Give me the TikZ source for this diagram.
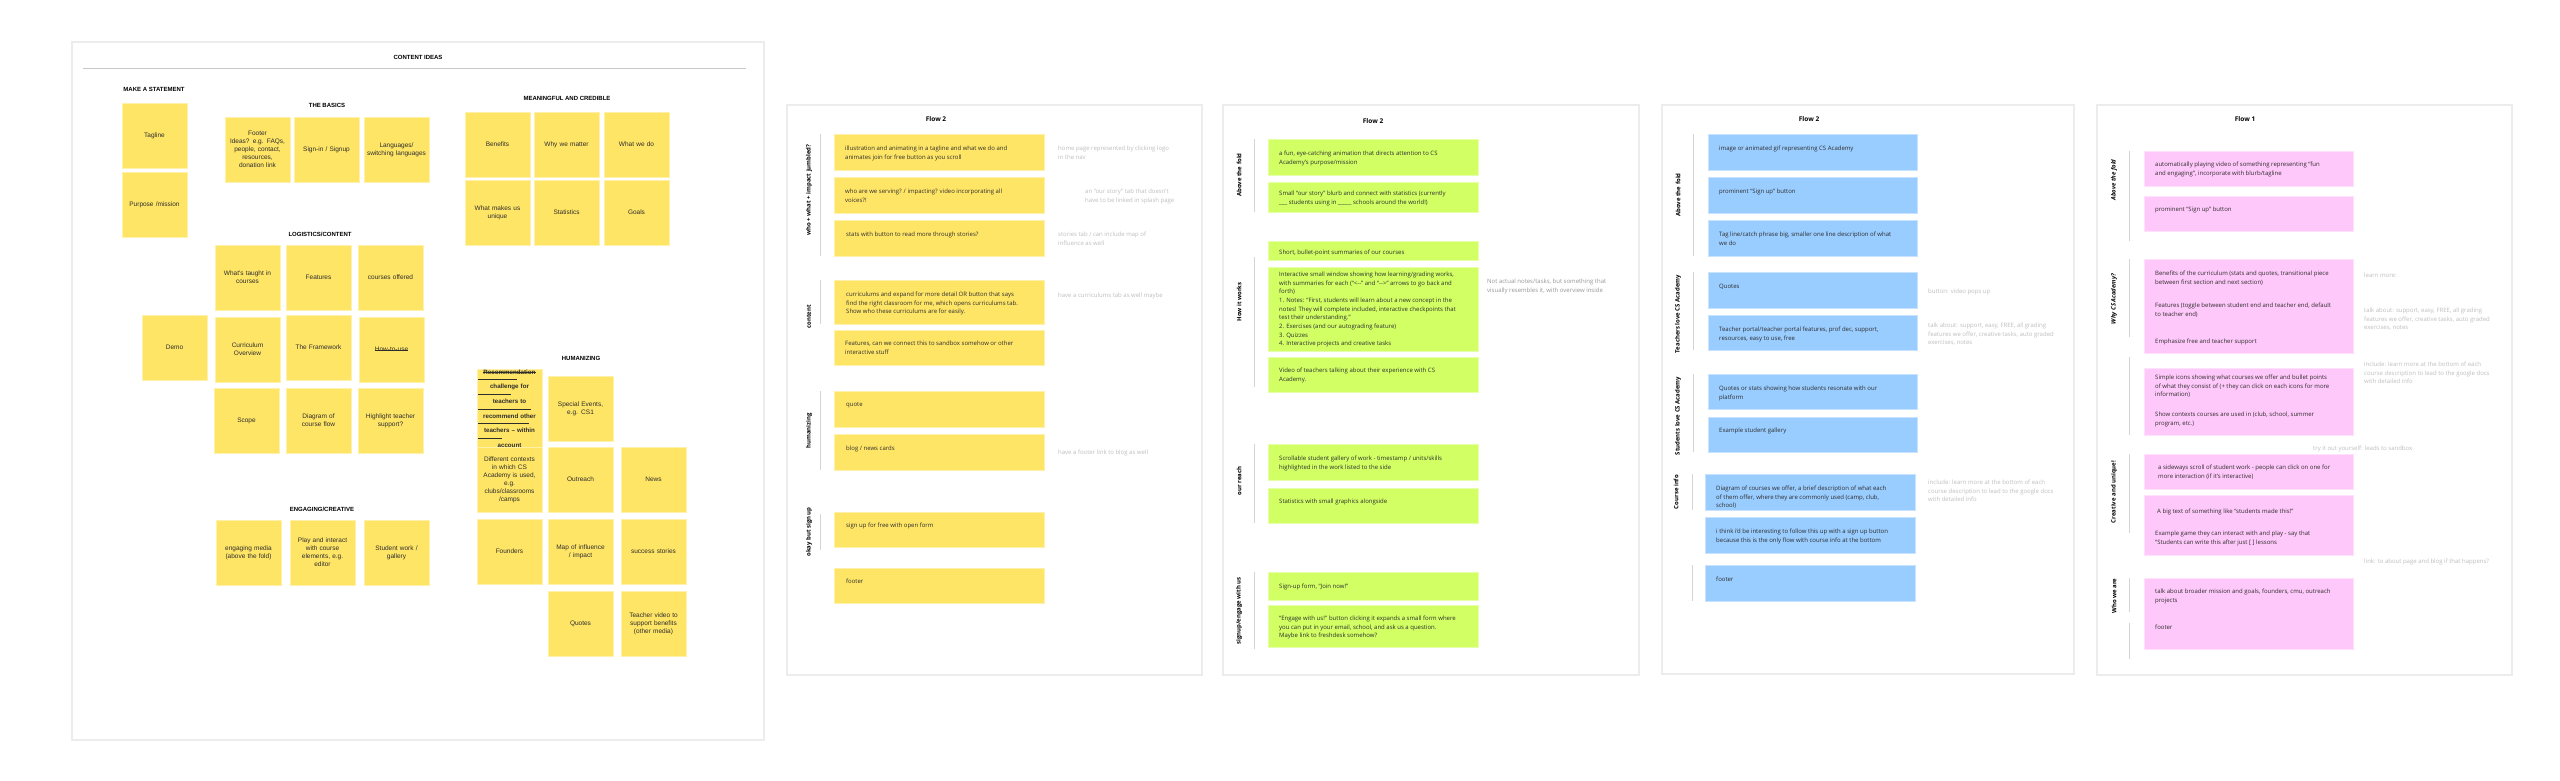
\documentclass[tikz,border=0pt]{standalone}
\usepackage{fontspec}
\setmainfont{Open Sans}
\newfontfamily\stickyfont{Liberation Sans}
\usetikzlibrary{positioning}

\definecolor{boardgrey}{RGB}{236,236,236}
\definecolor{rulegrey}{RGB}{200,200,200}
\definecolor{linegrey}{RGB}{212,212,212}
\definecolor{notegrey}{RGB}{190,190,190}
\definecolor{notedark}{RGB}{150,150,150}
\definecolor{inkgrey}{RGB}{45,45,45}
\definecolor{stickyyellow}{RGB}{255,229,102}
\definecolor{flowgreen}{RGB}{209,255,100}
\definecolor{flowblue}{RGB}{153,204,255}
\definecolor{flowpink}{RGB}{255,200,250}

% struck-through word
\newsavebox\strkbox
\newcommand{\strk}[1]{\sbox\strkbox{#1}\rlap{\rule[0.26em]{\wd\strkbox}{0.45pt}}\usebox\strkbox}
% card: style, name, x1, y1, x2, y2
\newcommand{\fcard}[6]{\node[#1, minimum width={#5-#3}, minimum height={#6-#4}] (#2) at (#3,#4) {};}
% text in a card: [style], name, x, y of first line, text
\newcommand{\cardline}[5][]{\node[cardtext,#1] (#2) at (#3,#4-2.4) {#5};}

\begin{document}
\begin{tikzpicture}[x=1pt, y=-1pt,
    board/.style={draw=boardgrey, line width=2pt, fill=white},
    head/.style={font={\stickyfont\bfseries\fontsize{6}{7}\selectfont}, text=black, inner sep=0pt},
    sticky/.style={fill=stickyyellow, draw=stickyyellow!55!white, line width=0.6pt,
        minimum width=65pt, minimum height=65pt, text width=63pt, align=center, inner sep=0pt,
        font={\stickyfont\fontsize{6.5}{8}\selectfont}, text=inkgrey},
    fcardbase/.style={anchor=north west, inner sep=0pt, line width=0.6pt},
    ycard/.style={fcardbase, fill=stickyyellow, draw=stickyyellow!55!white},
    gcard/.style={fcardbase, fill=flowgreen, draw=flowgreen!55!white},
    bcard/.style={fcardbase, fill=flowblue, draw=flowblue!55!white},
    pcard/.style={fcardbase, fill=flowpink, draw=flowpink!55!white},
    cardtext/.style={anchor=north west, align=left, inner sep=0pt,
        font={\fontsize{6}{8.7}\selectfont}, text=inkgrey},
    note/.style={text=notegrey},
    title/.style={font={\bfseries\fontsize{6.5}{8}\selectfont}, inner sep=0pt},
    seclabel/.style={rotate=90, inner sep=0pt, font={\bfseries\fontsize{6}{7}\selectfont}},
    secline/.style={draw=linegrey, line width=0.8pt}]

\useasboundingbox (0,0) rectangle (2560,780);
\fill[white] (0,0) rectangle (2560,780);

% boards
\draw[board] (72,42) rectangle (764,740);
\draw[board] (787,105) rectangle (1202,675);
\draw[board] (1223,105) rectangle (1639,675);
\draw[board] (1662,105) rectangle (2074,674);
\draw[board] (2097,105) rectangle (2512,675);

% content ideas
\node[head] (ideas) at (418,57) {CONTENT IDEAS};
\draw[rulegrey, line width=0.8pt] (83,68) -- (746,68);

\node[head] (statement) at (154,89) {MAKE A STATEMENT};
\node[sticky] (tagline) at (154.5,136) {Tagline};
\node[sticky] (purpose) at (154.5,204.5) {Purpose /mission};

\node[head] (basics) at (327,105) {THE BASICS};
\node[sticky] (footer) at (257.5,149.5) {Footer\\Ideas? e.g. FAQs,\\people, contact,\\resources,\\donation link};
\node[sticky] (signin) at (326.5,149.5) {Sign-in / Signup};
\node[sticky] (langs) at (396.5,149.5) {Languages/\\switching languages};

\node[head] (logistics) at (320,234) {LOGISTICS/CONTENT};
\node[sticky] (taught) at (247.5,277.5) {What's taught in\\courses};
\node[sticky] (features) at (318.5,277.5) {Features};
\node[sticky] (offered) at (390.5,277.5) {courses offered};
\node[sticky] (demo) at (174.5,347.5) {Demo};
\node[sticky] (overview) at (247.5,349.5) {Curriculum\\Overview};
\node[sticky] (framework) at (318.5,347.5) {The Framework};
\node[sticky] (howto) at (391.5,349.5) {\strk{How-to-use}};
\node[sticky] (scope) at (246.5,420.5) {Scope};
\node[sticky] (flowdiag) at (318.5,420.5) {Diagram of\\course flow};
\node[sticky] (support) at (390.5,420.5) {Highlight teacher\\support?};

\node[head] (engaging) at (322,509) {ENGAGING/CREATIVE};
\node[sticky] (media) at (248.5,552.5) {engaging media\\(above the fold)};
\node[sticky] (play) at (322.5,552.5) {Play and interact\\with course\\elements, e.g.\\editor};
\node[sticky] (work) at (396.5,552.5) {Student work /\\gallery};

\node[head] (meaningful) at (567,98) {MEANINGFUL AND CREDIBLE};
\node[sticky] (benefits) at (497.5,144.5) {Benefits};
\node[sticky] (matter) at (566.5,144.5) {Why we matter};
\node[sticky] (whatdo) at (636.5,144.5) {What we do};
\node[sticky] (unique) at (497.5,212.5) {What makes us\\unique};
\node[sticky] (stats) at (566.5,212.5) {Statistics};
\node[sticky] (goals) at (636.5,212.5) {Goals};

\node[head] (humanizing) at (581,358) {HUMANIZING};
\node[sticky, font={\stickyfont\bfseries\fontsize{6.2}{7.3}\selectfont}] (recommend) at (509.5,408.5)
    {\strk{Recommendation}\\\strk{challenge for}\\\strk{teachers to}\\\strk{recommend other}\\\strk{teachers – within}\\\strk{account}};
\node[sticky] (events) at (580.5,408.5) {Special Events,\\e.g. CS1};
\node[sticky] (contexts) at (509.5,479.5) {Different contexts\\in which CS\\Academy is used,\\e.g.\\clubs/classrooms\\/camps};
\node[sticky] (outreach) at (580.5,479.5) {Outreach};
\node[sticky] (news) at (653.5,479.5) {News};
\node[sticky] (founders) at (509.5,551.5) {Founders};
\node[sticky] (influence) at (580.5,551.5) {Map of influence\\/ impact};
\node[sticky] (success) at (653.5,551.5) {success stories};
\node[sticky] (quotes) at (580.5,623.5) {Quotes};
\node[sticky] (video) at (653.5,623.5) {Teacher video to\\support benefits\\(other media)};

% flow 2, yellow
\node[title] (ytitle) at (936,119) {Flow 2};
\fcard{ycard}{y1}{834}{134}{1044}{170}
\fcard{ycard}{y2}{834}{177}{1044}{213}
\fcard{ycard}{y3}{834}{220}{1044}{256}
\fcard{ycard}{y4}{834}{280}{1044}{324}
\fcard{ycard}{y5}{834}{330}{1044}{365}
\fcard{ycard}{y6}{834}{391}{1044}{427}
\fcard{ycard}{y7}{834}{434}{1044}{470}
\fcard{ycard}{y8}{834}{512}{1044}{547}
\fcard{ycard}{y9}{834}{568}{1044}{603}
\cardline{y1t}{845}{148}{illustration and animating in a tagline and what we do and\\animates join for free button as you scroll}
\cardline{y2t}{845}{191}{who are we serving? / impacting? video incorporating all\\voices?!}
\cardline{y3t}{846}{234}{stats with button to read more through stories?}
\cardline{y4t}{846}{294}{curriculums and expand for more detail OR button that says\\find the right classroom for me, which opens curriculums tab.\\Show who these curriculums are for easily.}
\cardline{y5t}{845}{343}{Features, can we connect this to sandbox somehow or other\\interactive stuff}
\cardline{y6t}{846}{405}{quote}
\cardline{y7t}{846}{448}{blog / news cards}
\cardline{y8t}{846}{525}{sign up for free with open form}
\cardline{y9t}{846}{581}{footer}
\cardline[note]{yn1}{1058}{148}{home page represented by clicking logo\\in the nav}
\cardline[note]{yn2}{1085}{191}{an “our story” tab that doesn't\\have to be linked in splash page}
\cardline[note]{yn3}{1058}{234}{stories tab / can include map of\\influence as well}
\cardline[note]{yn4}{1058}{295}{have a curriculums tab as well maybe}
\cardline[note]{yn5}{1058}{452}{have a footer link to blog as well}
\draw[secline] (820,134) -- (820,256);
\draw[secline] (820,280) -- (820,324);
\draw[secline] (820,391) -- (820,470);
\draw[secline] (820,514) -- (820,550);
\node[seclabel] (ys1) at (809,190) {who + what + impact jumbled?};
\node[seclabel] (ys2) at (809,317) {content};
\node[seclabel] (ys3) at (809,431) {humanizing};
\node[seclabel] (ys4) at (809,532) {okay but sign up};

% flow 2, green
\node[title] (gtitle) at (1373,121) {Flow 2};
\fcard{gcard}{g1}{1268}{139}{1478}{175}
\fcard{gcard}{g2}{1268}{182}{1478}{212}
\fcard{gcard}{g3}{1268}{241}{1478}{260}
\fcard{gcard}{g4}{1268}{267}{1478}{351}
\fcard{gcard}{g5}{1268}{357}{1478}{392}
\fcard{gcard}{g6}{1268}{444}{1478}{480}
\fcard{gcard}{g7}{1268}{488}{1478}{523}
\fcard{gcard}{g8}{1268}{572}{1478}{600}
\fcard{gcard}{g9}{1268}{605}{1478}{647}
\cardline{g1t}{1279}{153}{a fun, eye-catching animation that directs attention to CS\\Academy’s purpose/mission}
\cardline{g2t}{1279}{193}{Small “our story” blurb and connect with statistics (currently\\\_\_\_ students using in \_\_\_\_\_ schools around the world!)}
\cardline{g3t}{1279}{252}{Short, bullet-point summaries of our courses}
\cardline{g4t}{1279}{274}{Interactive small window showing how learning/grading works,\\with summaries for each (“<-{}-” and “-{}->” arrows to go back and\\forth)\\1. Notes: “First, students will learn about a new concept in the\\notes! They will complete included, interactive checkpoints that\\test their understanding.”\\2. Exercises (and our autograding feature)\\3. Quizzes\\4. Interactive projects and creative tasks}
\cardline{g5t}{1279}{370}{Video of teachers talking about their experience with CS\\Academy.}
\cardline{g6t}{1279}{458}{Scrollable student gallery of work - timestamp / units/skills\\highlighted in the work listed to the side}
\cardline{g7t}{1279}{501}{Statistics with small graphics alongside}
\cardline{g8t}{1279}{586}{Sign-up form, “Join now!”}
\cardline{g9t}{1279}{618}{“Engage with us!” button clicking it expands a small form where\\you can put in your email, school, and ask us a question.\\Maybe link to freshdesk somehow?}
\cardline[text=notedark]{gn1}{1487}{281}{Not actual notes/tasks, but something that\\visually resembles it, with overview inside}
\draw[secline] (1254,139) -- (1254,212);
\draw[secline] (1254,257) -- (1254,387);
\draw[secline] (1254,444) -- (1254,523);
\draw[secline] (1254,572) -- (1254,649);
\node[seclabel] (gs1) at (1239,175) {Above the fold};
\node[seclabel] (gs2) at (1239,302) {How it works};
\node[seclabel] (gs3) at (1239,481) {our reach};
\node[seclabel] (gs4) at (1239,611) {signup/engage with us};

% flow 2, blue
\node[title] (btitle) at (1809,119) {Flow 2};
\fcard{bcard}{b1}{1708}{134}{1917}{170}
\fcard{bcard}{b2}{1708}{177}{1917}{213}
\fcard{bcard}{b3}{1708}{220}{1917}{256}
\fcard{bcard}{b4}{1708}{272}{1917}{308}
\fcard{bcard}{b5}{1708}{315}{1917}{350}
\fcard{bcard}{b6}{1708}{374}{1917}{409}
\fcard{bcard}{b7}{1708}{417}{1917}{452}
\fcard{bcard}{b8}{1705}{474}{1915}{510}
\fcard{bcard}{b9}{1705}{517}{1915}{553}
\fcard{bcard}{b10}{1705}{565}{1915}{601}
\cardline{b1t}{1719}{148}{image or animated gif representing CS Academy}
\cardline{b2t}{1719}{191}{prominent “Sign up” button}
\cardline{b3t}{1719}{234}{Tag line/catch phrase big, smaller one line description of what\\we do}
\cardline{b4t}{1719}{286}{Quotes}
\cardline{b5t}{1719}{329}{Teacher portal/teacher portal features, prof dec, support,\\resources, easy to use, free}
\cardline{b6t}{1719}{388}{Quotes or stats showing how students resonate with our\\platform}
\cardline{b7t}{1719}{430}{Example student gallery}
\cardline{b8t}{1716}{488}{Diagram of courses we offer, a brief description of what each\\of them offer, where they are commonly used (camp, club,\\school)}
\cardline{b9t}{1716}{531}{i think i'd be interesting to follow this up with a sign up button\\because this is the only flow with course info at the bottom}
\cardline{b10t}{1716}{579}{footer}
\cardline[note]{bn1}{1928}{291}{button: video pops up}
\cardline[note]{bn2}{1928}{325}{talk about: support, easy, FREE, all grading\\features we offer, creative tasks, auto graded\\exercises, notes}
\cardline[note]{bn3}{1928}{482}{include: learn more at the bottom of each\\course description to lead to the google docs\\with detailed info}
\draw[secline] (1693,134) -- (1693,256);
\draw[secline] (1693,272) -- (1693,350);
\draw[secline] (1693,374) -- (1693,452);
\draw[secline] (1692,474) -- (1692,510);
\draw[secline] (1692,565) -- (1692,601);
\node[seclabel] (bs1) at (1678,195) {Above the fold};
\node[seclabel] (bs2) at (1678,314) {Teachers love CS Academy};
\node[seclabel] (bs3) at (1678,416) {Students love CS Academy};
\node[seclabel] (bs4) at (1676,492) {Course info};

% flow 1, pink
\node[title] (ptitle) at (2245,119) {Flow 1};
\fcard{pcard}{p1}{2144}{151}{2353}{186}
\fcard{pcard}{p2}{2144}{196}{2353}{231}
\fcard{pcard}{p3}{2144}{259}{2353}{353}
\fcard{pcard}{p4}{2144}{368}{2353}{435}
\fcard{pcard}{p5}{2144}{454}{2353}{489}
\fcard{pcard}{p6}{2144}{495}{2353}{555}
\fcard{pcard}{p7}{2144}{578}{2353}{649}
\cardline{p1t}{2155}{164}{automatically playing video of something representing “fun\\and engaging”, incorporate with blurb/tagline}
\cardline{p2t}{2155}{209}{prominent “Sign up” button}
\cardline{p3t}{2155}{273}{Benefits of the curriculum (stats and quotes, transitional piece\\between first section and next section)}
\cardline{p3u}{2155}{305}{Features (toggle between student end and teacher end, default\\to teacher end)}
\cardline{p3v}{2155}{341}{Emphasize free and teacher support}
\cardline{p4t}{2155}{377}{Simple icons showing what courses we offer and bullet points\\of what they consist of (+ they can click on each icons for more\\information)}
\cardline{p4u}{2155}{414}{Show contexts courses are used in (club, school, summer\\program, etc.)}
\cardline{p5t}{2158}{467}{a sideways scroll of student work - people can click on one for\\more interaction (if it's interactive)}
\cardline{p6t}{2157}{511}{A big text of something like “students made this!”}
\cardline{p6u}{2155}{533}{Example game they can interact with and play - say that\\“Students can write this after just [ ] lessons}
\cardline{p7t}{2155}{591}{talk about broader mission and goals, founders, cmu, outreach\\projects}
\cardline{p7u}{2155}{627}{footer}
\cardline[note]{pn1}{2364}{275}{learn more:}
\cardline[note]{pn2}{2364}{310}{talk about: support, easy, FREE, all grading\\features we offer, creative tasks, auto graded\\exercises, notes}
\cardline[note]{pn3}{2364}{364}{include: learn more at the bottom of each\\course description to lead to the google docs\\with detailed info}
\cardline[note]{pn4}{2313}{448}{try it out yourself: leads to sandbox}
\cardline[note]{pn5}{2364}{561}{link: to about page and blog if that happens?}
\draw[secline] (2129,151) -- (2129,241);
\draw[secline] (2129,259) -- (2129,337);
\draw[secline] (2129,357) -- (2129,435);
\draw[secline] (2129,454) -- (2129,533);
\draw[secline] (2129,578) -- (2129,612);
\draw[secline] (2129,623) -- (2129,659);
\node[seclabel, font={\bfseries\itshape\fontsize{6}{7}\selectfont}] (ps1) at (2114,180) {Above the fold};
\node[seclabel, font={\bfseries\itshape\fontsize{6}{7}\selectfont}] (ps2) at (2114,299) {Why CS Academy?};
\node[seclabel] (ps3) at (2114,492) {Creative and unique!};
\node[seclabel] (ps4) at (2114,596) {Who we are};
\end{tikzpicture}
\end{document}
